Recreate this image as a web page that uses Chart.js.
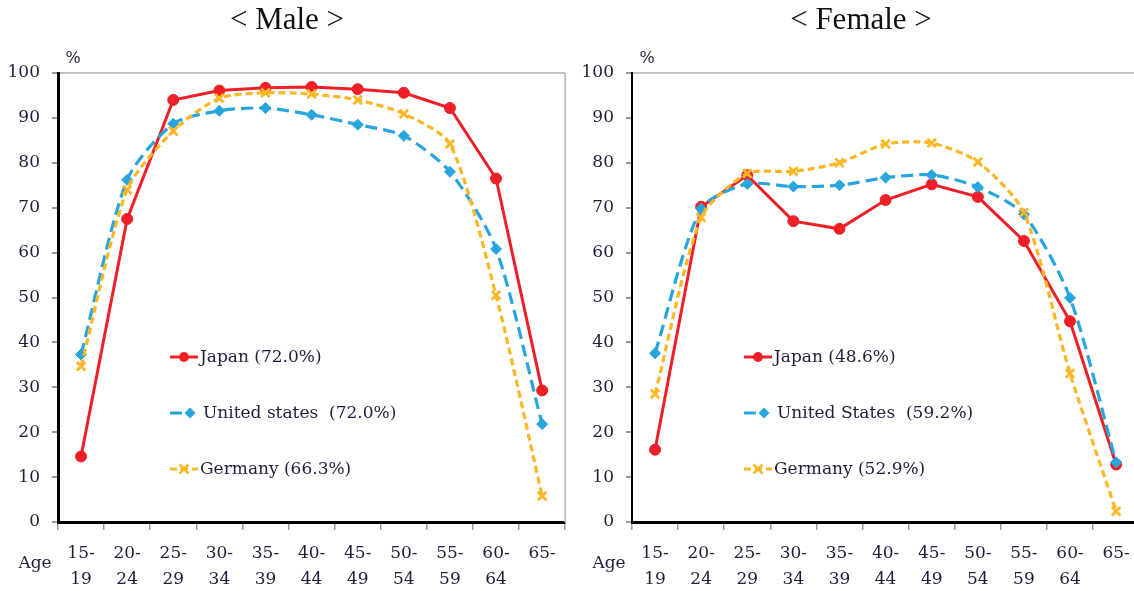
<!DOCTYPE html>
<html>
<head>
<meta charset="utf-8">
<script src="https://cdn.jsdelivr.net/npm/chart.js@4.4.1/dist/chart.umd.min.js"></script>
<style>
  html, body { margin: 0; padding: 0; background: #fff; overflow: hidden; }
  .wrap { position: absolute; top: 0; width: 574px; height: 591px; }
</style>
</head>
<body>
<div class="wrap" style="left:0"><canvas id="maleChart" width="574" height="591"></canvas></div>
<div class="wrap" style="left:574px"><canvas id="femaleChart" width="574" height="591"></canvas></div>
<script>
// age groups (x axis, two-line labels)
const ageGroups = [['15-','19'],['20-','24'],['25-','29'],['30-','34'],['35-','39'],['40-','44'],
                   ['45-','49'],['50-','54'],['55-','59'],['60-','64'],['65-','']];

// labour force participation rate, %
const maleJapan     = [14.6, 67.5, 94.0, 96.1, 96.7, 96.9, 96.4, 95.6, 92.2, 76.5, 29.3];
const maleUS        = [37.3, 76.2, 88.7, 91.6, 92.2, 90.7, 88.5, 86.0, 78.0, 60.8, 21.8];
const maleGermany   = [34.7, 74.0, 87.1, 94.4, 95.6, 95.3, 94.0, 90.9, 84.2, 50.5, 5.8];

const femaleJapan   = [16.1, 70.2, 77.2, 67.0, 65.3, 71.7, 75.2, 72.4, 62.6, 44.7, 12.8];
const femaleUS      = [37.6, 69.8, 75.3, 74.7, 75.0, 76.7, 77.3, 74.6, 68.5, 49.9, 13.3];
const femaleGermany = [28.5, 67.8, 77.6, 78.1, 80.0, 84.2, 84.4, 80.2, 68.9, 33.1, 2.4];

const maleLegend   = ['Japan (72.0%)', 'United states  (72.0%)', 'Germany (66.3%)'];
const femaleLegend = ['Japan (48.6%)', 'United States  (59.2%)', 'Germany (52.9%)'];

const yTicks = [0, 10, 20, 30, 40, 50, 60, 70, 80, 90, 100];

const RED = '#ee1f27', BLUE = '#27a5dd', ORANGE = '#fbb726';
const TEXT = '#1e1e3c';
const SERIF = '"DejaVu Serif", serif';

function drawMarker(ctx, style, x, y, color) {
    ctx.save();
    ctx.setLineDash([]);
    ctx.fillStyle = color;
    ctx.strokeStyle = color;
    if (style === 'circle') {
        ctx.beginPath();
        ctx.arc(x, y, 5, 0, Math.PI * 2);
        ctx.fill();
    } else if (style === 'rectRot') {
        ctx.beginPath();
        ctx.moveTo(x, y - 5.5); ctx.lineTo(x + 5.5, y); ctx.lineTo(x, y + 5.5); ctx.lineTo(x - 5.5, y);
        ctx.closePath();
        ctx.fill();
    } else {
        ctx.lineWidth = 2.5;
        ctx.beginPath();
        ctx.moveTo(x - 4.5, y - 4.5); ctx.lineTo(x + 4.5, y + 4.5);
        ctx.moveTo(x + 4.5, y - 4.5); ctx.lineTo(x - 4.5, y + 4.5);
        ctx.stroke();
    }
    ctx.restore();
}

function makeChart(id, title, series, legendLabels, axisWidth) {
    const decorations = {
        id: 'decorations',
        afterDraw(chart) {
            const ctx = chart.ctx;
            const area = chart.chartArea;
            ctx.save();
            // title
            ctx.fillStyle = '#111';
            ctx.font = '31px "Liberation Serif", serif';
            ctx.textAlign = 'center';
            ctx.textBaseline = 'middle';
            ctx.fillText(title, chart.width / 2, 21);
            // unit and axis name
            ctx.fillStyle = TEXT;
            ctx.font = '16px ' + SERIF;
            ctx.fillText('%', area.left + 15, 59);
            ctx.font = '17px ' + SERIF;
            ctx.fillText('Age', area.left - 23, area.bottom + 42);
            // grey right border of plot area
            ctx.strokeStyle = '#c0c0c0';
            ctx.lineWidth = 2;
            ctx.beginPath();
            ctx.moveTo(area.right, area.top);
            ctx.lineTo(area.right, area.bottom);
            ctx.stroke();
            // legend inside the plot
            const rows = [357, 413, 469];
            chart.data.datasets.forEach((ds, i) => {
                const x0 = area.left + 112;
                const y = rows[i];
                const isUS = ds.pointStyle === 'rectRot';
                ctx.save();
                ctx.strokeStyle = ds.borderColor;
                ctx.lineWidth = 3;
                ctx.setLineDash(ds.borderDash || []);
                ctx.beginPath();
                ctx.moveTo(x0, y);
                ctx.lineTo(x0 + (isUS ? 22 : 28), y);
                ctx.stroke();
                ctx.restore();
                drawMarker(ctx, ds.pointStyle, x0 + (isUS ? 20 : 14), y, ds.borderColor);
                ctx.fillStyle = TEXT;
                ctx.font = '17px ' + SERIF;
                ctx.textAlign = 'left';
                ctx.textBaseline = 'middle';
                ctx.fillText(legendLabels[i], x0 + (isUS ? 33 : 30), y + 1);
            });
            ctx.restore();
        }
    };

    return new Chart(document.getElementById(id), {
        type: 'line',
        data: {
            labels: ageGroups,
            datasets: [
                {
                    label: legendLabels[0], data: series[0], order: 3,
                    borderColor: RED, backgroundColor: RED, borderWidth: 3,
                    pointStyle: 'circle', pointRadius: 5.5, pointBorderWidth: 1, tension: 0
                },
                {
                    label: legendLabels[1], data: series[1], order: 2,
                    borderColor: BLUE, backgroundColor: BLUE, borderWidth: 3.2, borderDash: [12, 6],
                    pointStyle: 'rectRot', pointRadius: 5.5, pointBorderWidth: 1, tension: 0.25
                },
                {
                    label: legendLabels[2], data: series[2], order: 1,
                    borderColor: ORANGE, backgroundColor: ORANGE, borderWidth: 3.2, borderDash: [7, 4],
                    pointStyle: 'crossRot', pointRadius: 6, pointBorderWidth: 2.8, tension: 0.25
                }
            ]
        },
        options: {
            responsive: false,
            animation: false,
            devicePixelRatio: 1,
            events: [],
            layout: { padding: { top: 73, right: 3.5, bottom: 0, left: 0 } },
            plugins: { legend: { display: false }, tooltip: { enabled: false } },
            scales: {
                x: {
                    type: 'category',
                    offset: true,
                    grid: { offset: true, drawOnChartArea: false, tickLength: 8, tickColor: '#9a9a9a', lineWidth: 1.5 },
                    border: { color: '#000', width: 3 },
                    ticks: {
                        color: TEXT, padding: 11, maxRotation: 0, autoSkip: false,
                        font: { family: SERIF, size: 17, lineHeight: 1.5 }
                    },
                    afterFit: s => { s.height = 69; }
                },
                y: {
                    min: 0, max: 100,
                    afterBuildTicks: s => { s.ticks = yTicks.map(v => ({ value: v })); },
                    grid: {
                        color: c => (c.tick && c.tick.value === 100) ? '#c0c0c0' : 'rgba(0,0,0,0)',
                        lineWidth: 2, tickColor: '#9a9a9a', tickLength: 6
                    },
                    border: { color: '#000', width: axisWidth },
                    ticks: { color: TEXT, padding: 12, font: { family: SERIF, size: 17 } },
                    afterFit: s => { s.width = 58; }
                }
            }
        },
        plugins: [decorations]
    });
}

makeChart('maleChart', '< Male >', [maleJapan, maleUS, maleGermany], maleLegend, 3);
makeChart('femaleChart', '< Female >', [femaleJapan, femaleUS, femaleGermany], femaleLegend, 2);
</script>
</body>
</html>
